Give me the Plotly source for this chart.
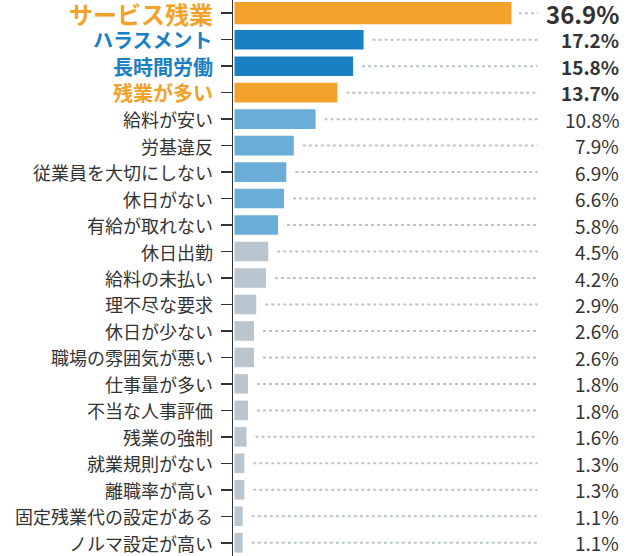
import plotly.graph_objects as go

categories = ["サービス残業", "ハラスメント", "長時間労働", "残業が多い", "給料が安い", "労基違反",
              "従業員を大切にしない", "休日がない", "有給が取れない", "休日出勤", "給料の未払い",
              "理不尽な要求", "休日が少ない", "職場の雰囲気が悪い", "仕事量が多い", "不当な人事評価",
              "残業の強制", "就業規則がない", "離職率が高い", "固定残業代の設定がある", "ノルマ設定が高い"]
values = [36.9, 17.2, 15.8, 13.7, 10.8, 7.9, 6.9, 6.6, 5.8, 4.5, 4.2, 2.9, 2.6, 2.6, 1.8, 1.8,
          1.6, 1.3, 1.3, 1.1, 1.1]
value_labels = ["36.9%", "17.2%", "15.8%", "13.7%", "10.8%", "7.9%", "6.9%", "6.6%", "5.8%", "4.5%",
                "4.2%", "2.9%", "2.6%", "2.6%", "1.8%", "1.8%", "1.6%", "1.3%", "1.3%", "1.1%", "1.1%"]

ORANGE = "#F2A22A"
BLUE = "#1A80C4"
LIGHT = "#6AADD6"
GRAY = "#B9C6CF"
DOT = "#B8C4CE"
DARK = "#333333"

bar_colors = [ORANGE, BLUE, BLUE, ORANGE] + [LIGHT] * 5 + [GRAY] * 12
label_colors = [ORANGE, BLUE, BLUE, ORANGE] + [DARK] * 17
label_sizes = [24, 20, 20, 20] + [18] * 17
label_bold = [True, True, True, True] + [False] * 17
val_sizes = [24, 19, 19, 19] + [19] * 17
val_bold = [True, True, True, True] + [False] * 17
widths = [0.84] + [0.74] * 20

FONT = "Noto Sans CJK JP"
DOT_END = 40.4
X_MAX = 52.7

fig = go.Figure()
fig.add_trace(go.Bar(
    x=values, y=categories, orientation="h",
    marker=dict(color=bar_colors, line=dict(width=0)),
    width=widths, hoverinfo="skip",
))

for c, v in zip(categories, values):
    start = v + (1.0 if v > 30 else 1.2)
    fig.add_trace(go.Scatter(
        x=[start, DOT_END], y=[c, c], mode="lines",
        line=dict(color=DOT, width=2, dash="dot"),
        hoverinfo="skip", showlegend=False,
    ))

annotations = []
for c, col, sz, b in zip(categories, label_colors, label_sizes, label_bold):
    txt = f"<b>{c}</b>" if b else c
    annotations.append(dict(
        x=0, xref="paper", y=c, yref="y", text=txt, showarrow=False,
        xanchor="right", yanchor="middle", xshift=-19,
        borderpad=0,
        font=dict(family=FONT, size=sz, color=col),
    ))
for c, t, sz, b in zip(categories, value_labels, val_sizes, val_bold):
    txt = f"<b>{t}</b>" if b else t
    annotations.append(dict(
        x=1, xref="paper", y=c, yref="y", text=txt, showarrow=False,
        xanchor="right", yanchor="middle", xshift=-10,
        borderpad=0,
        font=dict(family=FONT, size=sz, color=DARK),
    ))

fig.update_layout(
    width=630, height=556,
    margin=dict(l=233, r=0, t=0, b=0),
    paper_bgcolor="white", plot_bgcolor="white",
    showlegend=False, bargap=0.25,
    font=dict(family=FONT),
    annotations=annotations,
    xaxis=dict(range=[-0.2, X_MAX], showgrid=False, zeroline=False,
               showticklabels=False, showline=False, ticks=""),
    yaxis=dict(type="category", categoryorder="array", categoryarray=categories,
               range=[20.5, -0.5], showgrid=False, zeroline=False,
               showticklabels=False, showline=True, linecolor=DARK, linewidth=1.5,
               ticks="outside", ticklen=11, tickwidth=1.5, tickcolor=DARK),
)

fig.write_html("out.html",
               config={"displayModeBar": False, "staticPlot": True},
               post_script="document.body.style.margin='0';document.body.style.overflow='hidden';")
